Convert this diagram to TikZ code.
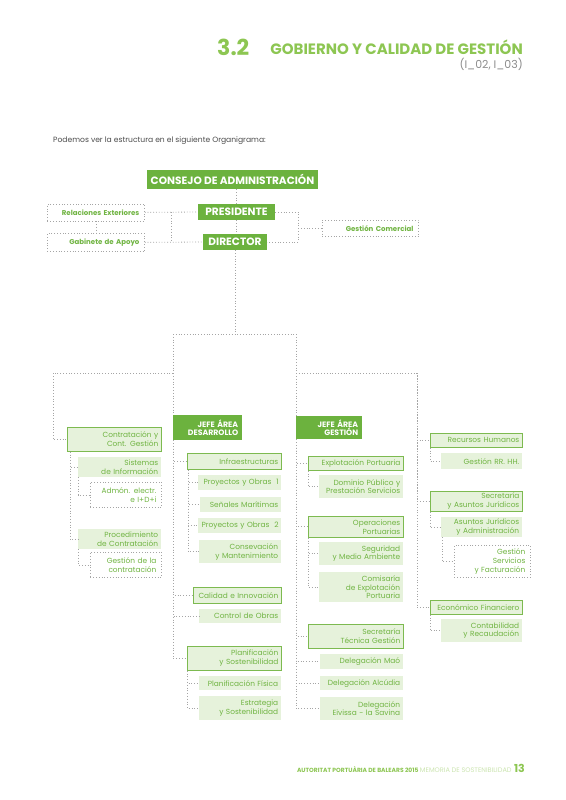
\documentclass[tikz,border=0pt]{standalone}
\usepackage{fontspec}
\setmainfont{Poppins}
\usetikzlibrary{positioning, calc}
\definecolor{darkgreen}{RGB}{108,178,62}
\definecolor{palegreen}{RGB}{230,242,219}
\definecolor{framegreen}{RGB}{125,186,80}
\definecolor{textgreen}{RGB}{112,180,66}
\definecolor{titlegreen}{RGB}{141,198,82}
\definecolor{linegray}{RGB}{165,165,165}
\newcommand{\boxfont}{\fontsize{7.4}{8.8}\selectfont}
\tikzset{
    head node/.style={fill=darkgreen, text=white, font=\bfseries\fontsize{10.6}{11}\selectfont, inner sep=0pt},
    area node/.style={fill=darkgreen, text=white, font=\bfseries\fontsize{7.8}{8.6}\selectfont, align=right, inner xsep=4pt, inner ysep=0pt, anchor=north west},
    unit node/.style={draw=framegreen, line width=0.7pt, fill=palegreen, text=textgreen, font=\boxfont, align=right, inner xsep=3pt, inner ysep=0pt, anchor=north west},
    sub node/.style={fill=palegreen, text=textgreen, font=\boxfont, align=right, inner xsep=3pt, inner ysep=0pt, anchor=north west},
    staff node/.style={draw=linegray, dotted, line width=0.8pt, text=textgreen, font=\boxfont, align=right, inner xsep=5pt, inner ysep=0pt, anchor=north west},
    link/.style={draw=linegray, dotted, line width=0.8pt},
}

\begin{document}
\begin{tikzpicture}[x=1pt, y=-1pt]
    \useasboundingbox[fill=white] (0,0) rectangle (565,800);
    % heading
    \node[anchor=base west, inner sep=0pt, text=titlegreen, font=\bfseries\fontsize{22}{22}\selectfont] (num) at (217,56) {3.2};
    \node[anchor=base east, inner sep=0pt, text=titlegreen, font=\bfseries\fontsize{15}{16}\selectfont] (title) at (523,55) {GOBIERNO Y CALIDAD DE GESTIÓN};
    \node[anchor=base east, inner sep=0pt, text=black!45, font=\fontsize{11}{11}\selectfont] (codes) at (523,68) {(I\_02, I\_03)};
    \node[anchor=base west, inner sep=0pt, text=black!70, font=\fontsize{7.6}{8}\selectfont] (intro) at (53,142) {Podemos ver la estructura en el siguiente Organigrama:};

    % governing bodies
    \node[head node, minimum width=171pt, minimum height=19pt] (consejo) at (232.5,179.5) {CONSEJO DE ADMINISTRACIÓN};
    \node[head node, minimum width=77pt, minimum height=16pt] (pres) at (236.5,212) {PRESIDENTE};
    \node[head node, minimum width=64pt, minimum height=16pt] (dir) at (235,242) {DIRECTOR};
    \node[staff node, font=\bfseries\fontsize{7}{8}\selectfont, text width=87pt, minimum height=17pt] (relac) at (47,203.5) {Relaciones Exteriores};
    \node[staff node, font=\bfseries\fontsize{7}{8}\selectfont, text width=87pt, minimum height=18pt] (gabin) at (47,233) {Gabinete de Apoyo};
    \node[staff node, font=\bfseries\fontsize{7}{8}\selectfont, text width=86pt, minimum height=16pt] (gescom) at (322,220) {Gestión Comercial};

    % areas
    \node[area node, text width=61pt, minimum height=25pt] (jefeD) at (173,415) {JEFE ÁREA\\DESARROLLO};
    \node[area node, text width=58pt, minimum height=23pt] (jefeG) at (296,416) {JEFE ÁREA\\GESTIÓN};

    % column 1
    \node[unit node, text width=88pt, minimum height=24pt] (contrat) at (67,427) {Contratación y\\Cont. Gestión};
    \node[sub node, text width=77pt, minimum height=20pt] (sist) at (78,457) {Sistemas\\de Información};
    \node[staff node, text width=61pt, minimum height=25pt] (admon) at (90,482) {Admón. electr.\\e I+D+i};
    \node[sub node, text width=77pt, minimum height=20pt] (proc) at (78,529) {Procedimiento\\de Contratación};
    \node[staff node, text width=61pt, minimum height=25pt] (gestcon) at (90,552) {Gestión de la\\contratación};

    % column 2
    \node[unit node, text width=88pt, minimum height=16pt] (infra) at (187,453) {Infraestructuras};
    \node[sub node, text width=78pt, inner xsep=2.5pt, minimum height=15pt] (proy1) at (198,475) {Proyectos~y~Obras~~1};
    \node[sub node, text width=75pt, minimum height=15pt] (senal) at (200,497) {Señales Marítimas};
    \node[sub node, text width=78pt, inner xsep=2.5pt, minimum height=15pt] (proy2) at (198,518) {Proyectos~y~Obras~~2};
    \node[sub node, text width=76pt, minimum height=23pt] (conserv) at (199,540) {Consevación\\y Mantenimiento};
    \node[unit node, text width=82pt, minimum height=16pt] (calidad) at (193,587) {Calidad e Innovación};
    \node[sub node, text width=76pt, minimum height=14pt] (control) at (199,609) {Control de Obras};
    \node[unit node, text width=88pt, minimum height=24pt] (planif) at (187,646) {Planificación\\y Sostenibilidad};
    \node[sub node, text width=76pt, minimum height=14pt] (pfis) at (199,676) {Planificación Física};
    \node[sub node, text width=76pt, minimum height=24pt] (estrat) at (199,696) {Estrategia\\y Sostenibilidad};

    % column 3
    \node[unit node, text width=89pt, minimum height=14pt] (explot) at (308,456) {Explotación Portuaria};
    \node[sub node, text width=78pt, minimum height=23pt] (dominio) at (319,475) {Dominio Público y\\Prestación Servicios};
    \node[unit node, text width=89pt, minimum height=21pt] (operac) at (308,516) {Operaciones\\Portuarias};
    \node[sub node, text width=78pt, minimum height=23pt] (segur) at (319,542) {Seguridad\\y Medio Ambiente};
    \node[sub node, text width=78pt, minimum height=30pt] (comis) at (319,572) {Comisaría\\de Explotación\\Portuaria};
    \node[unit node, text width=89pt, minimum height=24pt] (sectec) at (308,624) {Secretaría\\Técnica Gestión};
    \node[sub node, text width=77pt, minimum height=15pt] (delmao) at (320,654) {Delegación Maó};
    \node[sub node, text width=77pt, minimum height=14pt] (delalc) at (320,676) {Delegación Alcúdia};
    \node[sub node, text width=77pt, minimum height=23pt] (deleiv) at (320,697) {Delegación\\Eivissa - la Savina};

    % column 4
    \node[unit node, text width=86pt, minimum height=14pt] (rrhh) at (430,433) {Recursos Humanos};
    \node[sub node, text width=75pt, minimum height=16pt] (gesrh) at (441,453) {Gestión RR. HH.};
    \node[unit node, text width=86pt, minimum height=20pt] (secjur) at (430,491) {Secretaría\\y Asuntos Jurídicos};
    \node[sub node, text width=75pt, minimum height=20pt] (asunt) at (441,517) {Asuntos Jurídicos\\y Administración};
    \node[staff node, text width=66pt, minimum height=32pt] (gesserv) at (454,545) {Gestión\\Servicios\\y Facturación};
    \node[unit node, text width=86pt, minimum height=14pt] (econ) at (430,600) {Económico Financiero};
    \node[sub node, text width=75pt, minimum height=23pt] (contab) at (441,619) {Contabilidad\\y Recaudación};

    % top links
    \draw[link] (consejo.south -| pres.north) -- (pres.north);
    \draw[link] (pres.south) -- (pres.south |- dir.north);
    \draw[link] (relac.east) -- (pres.west);
    \draw[link] (gabin.east) -- (dir.west);
    \draw[link] (relac.south) -- (gabin.north);
    \coordinate (lj) at ($(relac.east)!.5!(pres.west)$);
    \draw[link] (lj) -- (lj |- dir.west);
    \coordinate[right=23pt of pres.east] (rj);
    \draw[link] (pres.east) -- (rj) |- (dir.east);
    \draw[link] (rj |- gescom.west) -- (gescom.west);

    % trunks
    \coordinate (split) at (dir.south |- 0,334);
    \coordinate (lefttop) at (53,373);
    \coordinate (righttop) at (417,373);
    \draw[link] (dir.south) -- (split);
    \draw[link] (jefeD.north west |- split) -- (jefeG.north west |- split);
    \draw[link] (jefeD.north west |- split) -- (jefeD.north west);
    \draw[link] (jefeG.north west |- split) -- (jefeG.north west);
    \draw[link] (jefeD.north west |- lefttop) -- (lefttop) |- (contrat.west);
    \draw[link] (jefeG.north west |- righttop) -- (righttop) |- (econ.west);
    \foreach \n in {rrhh, secjur}
        \draw[link] (righttop) |- (\n.west);

    % column links
    \coordinate (c1) at ([xshift=3pt]contrat.south west);
    \foreach \n in {sist, proc}
        \draw[link] (c1) |- (\n.west);
    \draw[link] (sist.south west) |- (admon.west);
    \draw[link] (proc.south west) |- (gestcon.west);

    \foreach \n in {infra, calidad, control, planif}
        \draw[link] (jefeD.south west) |- (\n.west);
    \foreach \n in {proy1, senal, proy2, conserv}
        \draw[link] ([xshift=1pt]infra.south west) |- (\n.west);
    \foreach \n in {pfis, estrat}
        \draw[link] (planif.south west) |- (\n.west);

    \foreach \n in {explot, operac, sectec, delmao, delalc, deleiv}
        \draw[link] (jefeG.south west) |- (\n.west);
    \draw[link] (explot.south west) |- (dominio.west);
    \foreach \n in {segur, comis}
        \draw[link] (operac.south west) |- (\n.west);

    \draw[link] (rrhh.south west) |- (gesrh.west);
    \draw[link] (secjur.south west) |- (asunt.west);
    \draw[link] ([xshift=1pt]asunt.south west) |- (gesserv.west);
    \draw[link] (econ.south west) |- (contab.west);

    % footer
    \node[anchor=base east, inner sep=0pt, text=titlegreen, font=\bfseries\fontsize{11}{11}\selectfont] (page) at (525,772) {13};
    \node[inner sep=0pt, text=titlegreen!45, font=\fontsize{6.6}{7}\selectfont, left=2pt of page.base west, anchor=base east] (memo) {MEMORIA DE SOSTENIBILIDAD};
    \node[inner sep=0pt, text=titlegreen, font=\bfseries\fontsize{6}{7}\selectfont, left=1pt of memo.base west, anchor=base east] (autor) {AUTORITAT PORTUÀRIA DE BALEARS 2015};
\end{tikzpicture}
\end{document}
